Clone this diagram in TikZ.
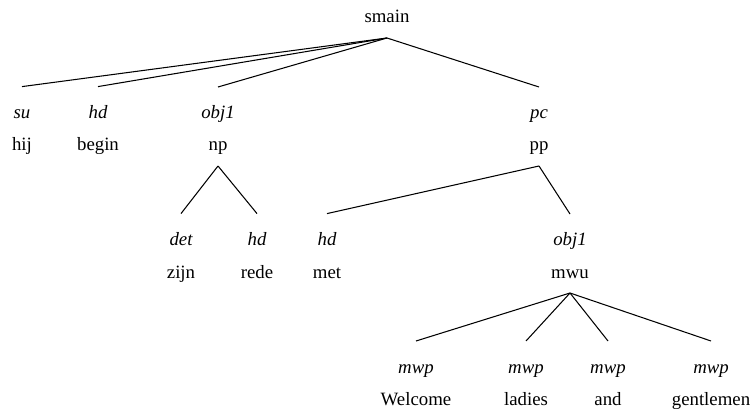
\documentclass[tikz,border=0pt]{standalone}
\usepackage{fontspec}
\setmainfont{Liberation Serif}

\begin{document}
\begin{tikzpicture}[
  x=1pt,y=-1pt,font=\fontsize{18.8}{20}\selectfont,
  cat/.style={anchor=base,inner sep=0pt,text depth=0pt,outer ysep=15pt},
  rel/.style={anchor=base,inner sep=0pt,text height=0pt,outer ysep=32pt,
    font=\fontsize{18.8}{20}\selectfont\itshape},
  word/.style={anchor=base,inner sep=0pt},
  edge/.style={line width=1.05pt},
]
\useasboundingbox (0,0) rectangle (755,414);

% top level
\node[cat] (smain) at (387,23) {smain};

\node[rel] (su) at (22,119) {su};
\node[word] (hij) at (22,151) {hij};
\node[rel] (hdA) at (98,119) {hd};
\node[word] (begin) at (98,151) {begin};
\node[rel] (objA) at (218,119) {obj1};
\node[cat] (np) at (218,151) {np};
\node[rel] (pc) at (539,119) {pc};
\node[cat] (pp) at (539,151) {pp};

% np and pp
\node[rel] (det) at (181,246) {det};
\node[word] (zijn) at (181,278) {zijn};
\node[rel] (hdB) at (257,246) {hd};
\node[word] (rede) at (257,278) {rede};
\node[rel] (hdC) at (327,246) {hd};
\node[word] (met) at (327,278) {met};
\node[rel] (objB) at (570,246) {obj1};
\node[cat] (mwu) at (570,278) {mwu};

% mwu
\node[rel] (mwpA) at (416,373) {mwp};
\node[word] (welcome) at (416,405) {Welcome};
\node[rel] (mwpB) at (526,373) {mwp};
\node[word] (ladies) at (526,405) {ladies};
\node[rel] (mwpC) at (608,373) {mwp};
\node[word] (and) at (608,405) {and};
\node[rel] (mwpD) at (711,373) {mwp};
\node[word] (gentlemen) at (711,405) {gentlemen};

\foreach \up/\down in {smain/su,smain/hdA,smain/objA,smain/pc,
    np/det,np/hdB,pp/hdC,pp/objB,
    mwu/mwpA,mwu/mwpB,mwu/mwpC,mwu/mwpD}
  \draw[edge] (\up.south) -- (\down.north);
\end{tikzpicture}
\end{document}
